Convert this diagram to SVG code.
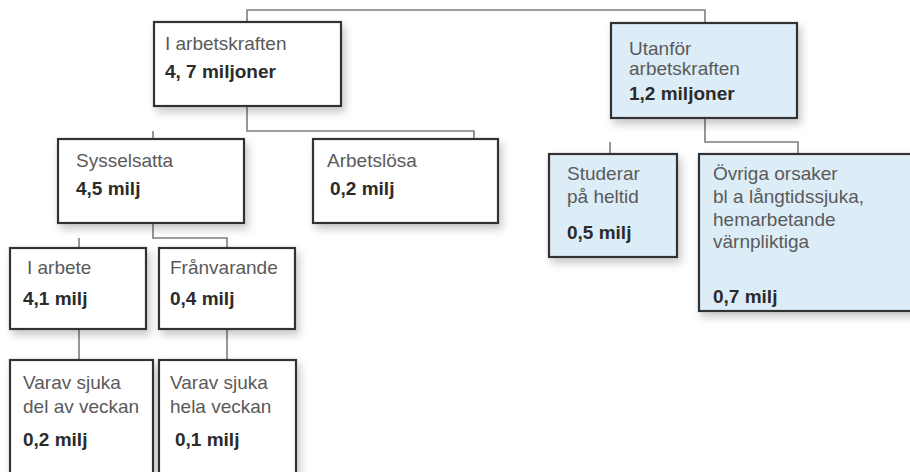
<svg xmlns="http://www.w3.org/2000/svg" width="910" height="472" viewBox="0 0 910 472">
<defs>
<filter id="sh" x="-20%" y="-20%" width="150%" height="150%">
<feDropShadow dx="3" dy="5" stdDeviation="4" flood-color="#000" flood-opacity="0.22"/>
</filter>
<style>
.box{fill:#fff;stroke:#333;stroke-width:2.2;filter:url(#sh)}
.blue{fill:#ddedf8}
.t{font-family:"Liberation Sans",Arial,sans-serif;font-size:19px;fill:#5a5a5a}
.b{font-family:"Liberation Sans",Arial,sans-serif;font-size:19px;font-weight:bold;fill:#2b2b2b}
.c{fill:none;stroke:#7d7d7d;stroke-width:1.6}
</style>
</defs>
<rect width="910" height="472" fill="#fff"/>
<g id="connectors">
<path class="c" d="M247,22 V10 H705 V23"/>
<path class="c" d="M247,106 V131 H474 V139 M153,139 V131"/>
<path class="c" d="M153,223 V238 H227 V248 M79,248 V238"/>
<path class="c" d="M79,329 V360 M227,329 V360"/>
<path class="c" d="M705,118 V142 H798 V154 M610,154 V142"/>
</g>
<g id="n-arbetskraften">
<rect class="box" x="154" y="22" width="187" height="84"/>
<text class="t" x="165" y="50">I arbetskraften</text>
<text class="b" x="165" y="78">4, 7 miljoner</text>
</g>
<g id="n-utanfor">
<rect class="box blue" x="611" y="23" width="186" height="95"/>
<text class="t" x="629" y="55">Utanför</text>
<text class="t" x="629" y="75">arbetskraften</text>
<text class="b" x="629" y="100">1,2 miljoner</text>
</g>
<g id="n-sysselsatta">
<rect class="box" x="58" y="139" width="186" height="84"/>
<text class="t" x="76" y="167">Sysselsatta</text>
<text class="b" x="76" y="195">4,5 milj</text>
</g>
<g id="n-arbetslosa">
<rect class="box" x="313" y="139" width="185" height="84"/>
<text class="t" x="327" y="167">Arbetslösa</text>
<text class="b" x="330" y="195">0,2 milj</text>
</g>
<g id="n-studerar">
<rect class="box blue" x="549" y="154" width="128" height="103"/>
<text class="t" x="567" y="180">Studerar</text>
<text class="t" x="567" y="203">på heltid</text>
<text class="b" x="567" y="239">0,5 milj</text>
</g>
<g id="n-ovriga">
<rect class="box blue" x="699" y="154" width="230" height="157"/>
<text class="t" x="713" y="180">Övriga orsaker</text>
<text class="t" x="713" y="203">bl a långtidssjuka,</text>
<text class="t" x="713" y="226">hemarbetande</text>
<text class="t" x="713" y="248">värnpliktiga</text>
<text class="b" x="713" y="303">0,7 milj</text>
</g>
<g id="n-iarbete">
<rect class="box" x="10" y="248" width="136" height="81"/>
<text class="t" x="27" y="274">I arbete</text>
<text class="b" x="23" y="305">4,1 milj</text>
</g>
<g id="n-franvarande">
<rect class="box" x="159" y="248" width="136" height="81"/>
<text class="t" x="170" y="274">Frånvarande</text>
<text class="b" x="170" y="305">0,4 milj</text>
</g>
<g id="n-deltvecka">
<rect class="box" x="10" y="360" width="143" height="130"/>
<text class="t" x="23" y="389">Varav sjuka</text>
<text class="t" x="23" y="413">del av veckan</text>
<text class="b" x="23" y="446">0,2 milj</text>
</g>
<g id="n-helavecka">
<rect class="box" x="159" y="360" width="137" height="130"/>
<text class="t" x="170" y="389">Varav sjuka</text>
<text class="t" x="170" y="413">hela veckan</text>
<text class="b" x="175" y="446">0,1 milj</text>
</g>
</svg>
